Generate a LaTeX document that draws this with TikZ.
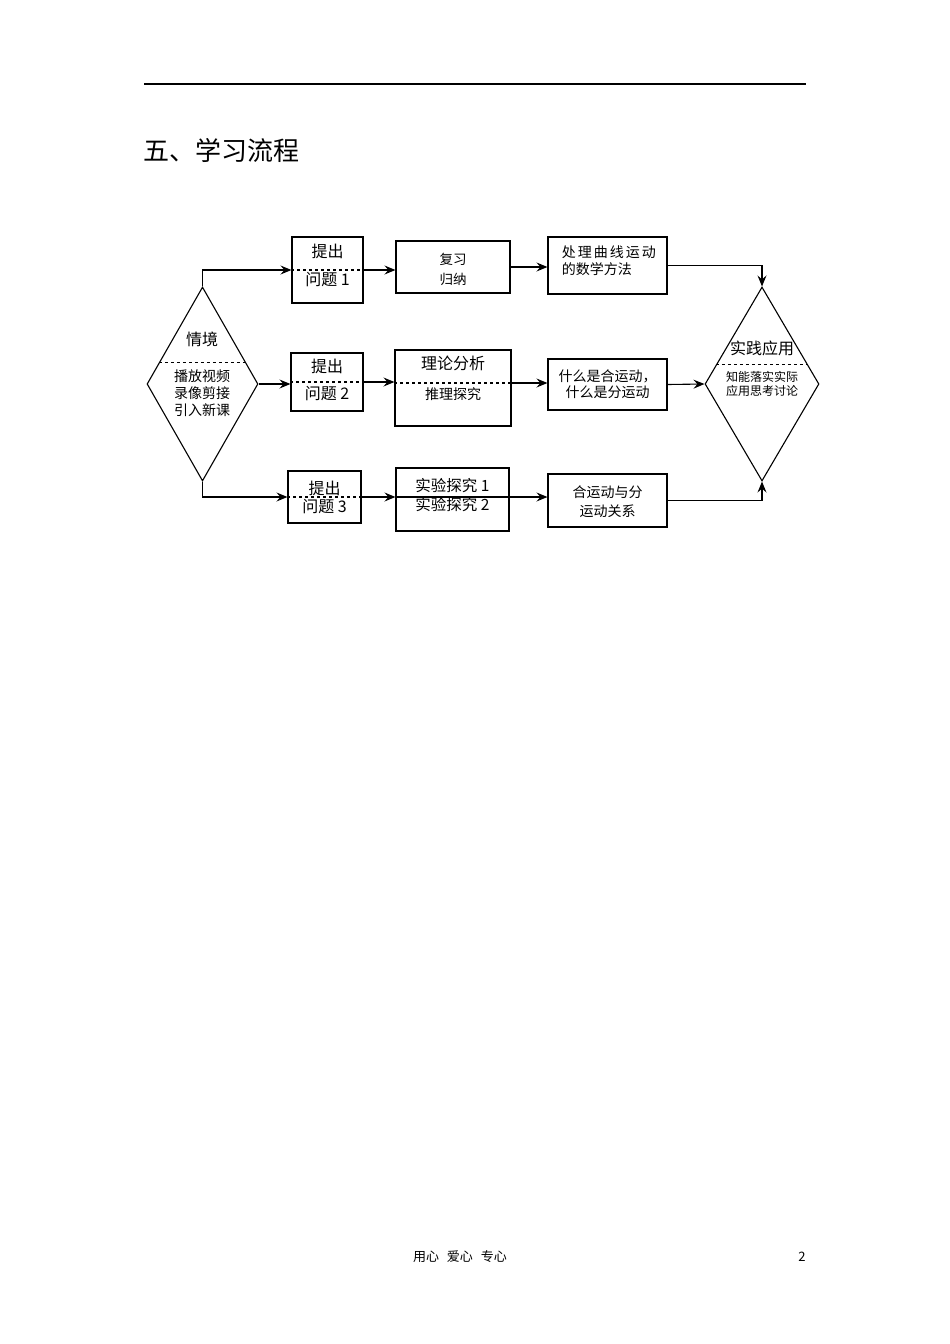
\documentclass[tikz,border=0pt]{standalone}
\usepackage{fontspec}
\setmainfont{Noto Sans CJK SC}
\usetikzlibrary{shapes.geometric, arrows.meta, calc}

\begin{document}
\begin{tikzpicture}[x=1pt, y=-1pt, line width=1.1pt,
  box/.style={draw, rectangle, inner sep=0pt},
  dia/.style={draw, diamond, inner sep=0pt, minimum height=194pt},
  flow/.style={-{Stealth[length=11pt, width=9pt, inset=4pt]}},
  big/.style={font=\fontsize{16}{18}\selectfont},
  mid/.style={font=\fontsize{14}{16}\selectfont},
  small/.style={font=\fontsize{14}{16}\selectfont}]
\useasboundingbox (0,0) rectangle (950,1344);
\draw[line width=1.2pt] (144,84) coordinate (hl) -- (806,84) coordinate (hr);
\node[anchor=west, font=\fontsize{26}{28}\selectfont] (title) at (140,150) {五、学习流程};

\node[dia, minimum width=111pt] (sit) at (202.5,384) {};
\node[dia, minimum width=114pt] (app) at (762,384) {};
\node[box, minimum width=71pt, minimum height=66pt] (q1) at (327.5,270) {};
\node[box, minimum width=114pt, minimum height=52pt] (rev) at (453,267) {};
\node[box, minimum width=119pt, minimum height=57pt] (math) at (607.5,265.5) {};
\node[box, minimum width=72pt, minimum height=58pt] (q2) at (327,382) {};
\node[box, minimum width=116pt, minimum height=76pt] (thy) at (453,388) {};
\node[box, minimum width=119pt, minimum height=51pt] (what) at (607.5,384.5) {};
\node[box, minimum width=73pt, minimum height=52pt] (q3) at (324.5,497) {};
\node[box, minimum width=113pt, minimum height=63pt] (exp) at (452.5,499.5) {};
\node[box, minimum width=119pt, minimum height=53pt] (rel) at (607.5,500.5) {};

\node[big] (sit1) at (202,339) {情境};
\node[mid, align=center, font=\fontsize{14}{17}\selectfont] (sit2) at (202,393) {播放视频\\录像剪接\\引入新课};
\node[big] (app1) at (762,348) {实践应用};
\node[small, align=center, font=\fontsize{12}{13.5}\selectfont] (app2) at (762,384) {知能落实实际\\应用思考讨论};
\node[big] (q1a) at (327.5,251) {提出};
\node[big] (q1b) at (327.5,280) {问题 1};
\node[small, font=\fontsize{13.5}{15}\selectfont] (rev1) at (453,259) {复习};
\node[small, font=\fontsize{13.5}{15}\selectfont] (rev2) at (453,279) {归纳};
\node[mid, anchor=west, align=left, font=\fontsize{14}{17}\selectfont] (math1) at (558,261)
  {处\hspace{2pt}理\hspace{2pt}曲\hspace{2pt}线\hspace{2pt}运\hspace{2pt}动\\的数学方法};
\node[big] (q2a) at (327,366) {提出};
\node[big] (q2b) at (327,394) {问题 2};
\node[big] (thy1) at (453,363) {理论分析};
\node[small] (thy2) at (453,394) {推理探究};
\node[mid, align=center, font=\fontsize{14}{16}\selectfont] (what1) at (607.5,384) {什么是合运动，\\什么是分运动};
\node[big] (q3a) at (324.5,488) {提出};
\node[big] (q3b) at (324.5,507) {问题 3};
\node[big, font=\fontsize{15.5}{18}\selectfont] (exp1) at (452.5,486) {实验探究 1};
\node[big, font=\fontsize{15.5}{18}\selectfont] (exp2) at (452.5,505) {实验探究 2};
\node[small] (rel1) at (607.5,492) {合运动与分};
\node[small] (rel2) at (607.5,511) {运动关系};

\draw[dashed] ($(sit.north)!0.78!(sit.west)$) -- ($(sit.north)!0.78!(sit.east)$);
\draw[dashed] ($(app.north)!0.8!(app.west)$) -- ($(app.north)!0.8!(app.east)$);
\draw[dashed] (q1.west) -- (q1.east);
\draw[dashed] (q2.west) -- (q2.east);
\draw[dashed] (q3.west) -- (q3.east);
\draw[dashed] ([yshift=5pt]thy.west) -- ([yshift=5pt]thy.east);
\draw ([yshift=2.5pt]exp.west) -- ([yshift=2.5pt]exp.east);

\draw[flow] (sit.north) |- (q1.west);
\draw[flow] (q1.east) -- (q1.east -| rev.west);
\draw[flow] (rev.east) -- (rev.east -| math.west);
\draw[flow] (math.east) -| (app.north);
\draw[flow] (sit.east) -- (sit.east -| q2.west);
\draw[flow] (q2.east) -- (q2.east -| thy.west);
\draw[flow] ([yshift=5pt]thy.east) -- ([yshift=5pt]thy.east -| what.west);
\draw[flow] (what.east) -- (app.west);
\draw[flow] (sit.south) |- (q3.west);
\draw[flow] (q3.east) -- (q3.east -| exp.west);
\draw[flow] ([yshift=2.5pt]exp.east) -- ([yshift=2.5pt]exp.east -| rel.west);
\draw[flow] (rel.east) -| (app.south);

\node[font=\fontsize{13}{15}\selectfont] (foot) at (460,1257) {用心\hspace{8pt}爱心\hspace{8pt}专心};
\node[font=\fontsize{13}{15}\selectfont] (page) at (802,1257) {2};
\end{tikzpicture}
\end{document}
